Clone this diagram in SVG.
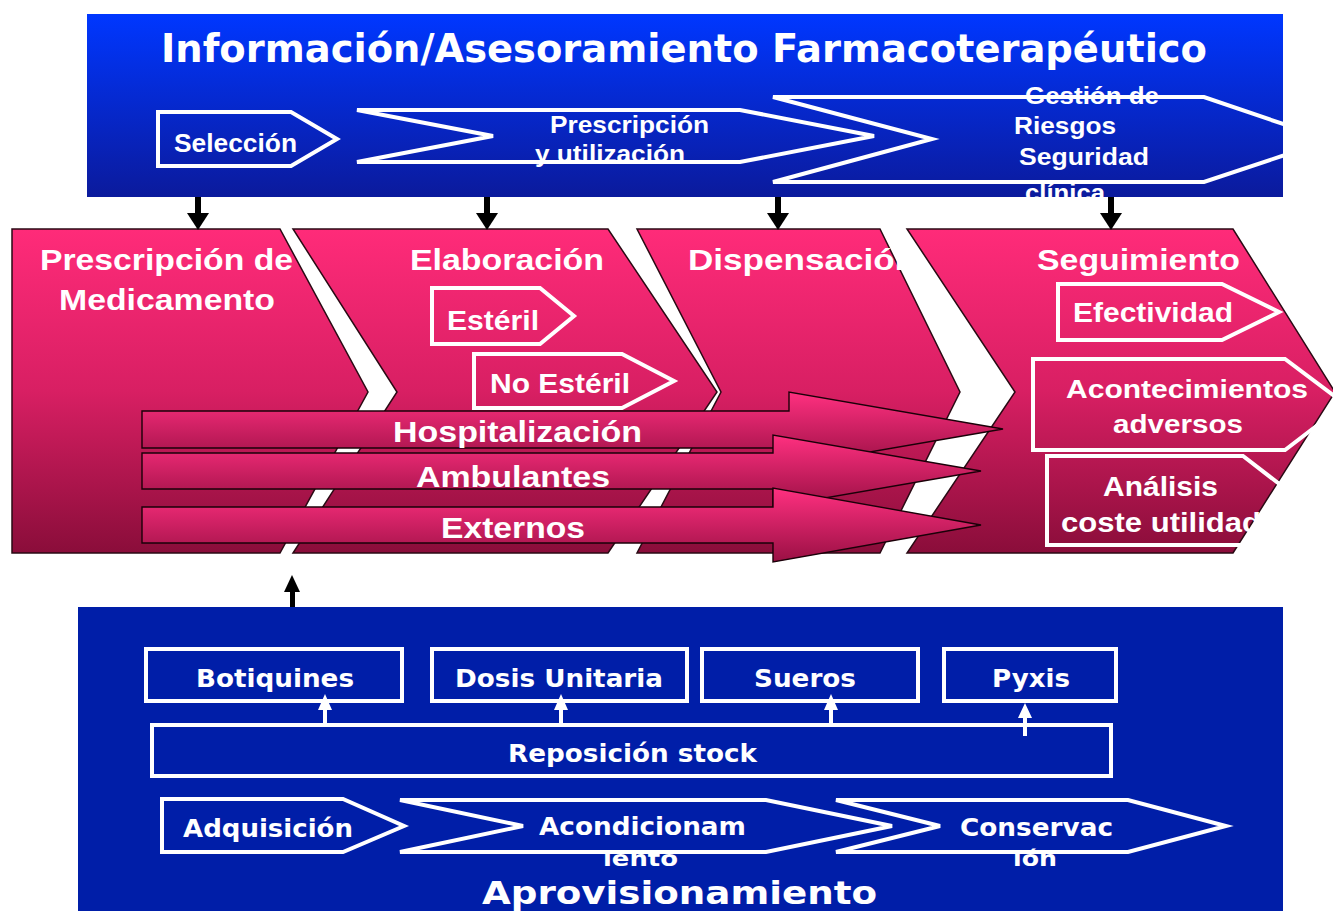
<svg xmlns="http://www.w3.org/2000/svg" width="1333" height="911" viewBox="0 0 1333 911">
<style>
.wt{fill:#fff;font-family:"Liberation Sans",Arial,sans-serif;font-weight:bold}
.dv{fill:#fff;font-family:"DejaVu Sans",Verdana,sans-serif;font-weight:bold}
.wo{fill:none;stroke:#fff;stroke-width:4;stroke-linejoin:miter}
.pk{fill:url(#pkg);stroke:#2a0a14;stroke-width:1.5}
.ba{fill:url(#bag);stroke:#1a0008;stroke-width:1.4;stroke-linejoin:miter}
</style>
<defs>
<linearGradient id="topg" x1="0" y1="0" x2="0" y2="1">
<stop offset="0" stop-color="#0037ff"/><stop offset="1" stop-color="#0b1a9c"/>
</linearGradient>
<linearGradient id="pkg" x1="0" y1="0" x2="0" y2="1">
<stop offset="0" stop-color="#ff2b79"/><stop offset="0.5" stop-color="#d81f63"/><stop offset="1" stop-color="#8a0d3a"/>
</linearGradient>
<linearGradient id="bag" x1="0" y1="0" x2="0" y2="1">
<stop offset="0" stop-color="#ff3080"/><stop offset="1" stop-color="#9a1044"/>
</linearGradient>
<clipPath id="topclip"><rect x="87" y="14" width="1196" height="183"/></clipPath>
</defs>

<g id="top-band">
<rect x="87" y="14" width="1196" height="183" fill="url(#topg)"/>
<text class="dv" x="161" y="62" font-size="39" textLength="1046" lengthAdjust="spacingAndGlyphs">Información/Asesoramiento Farmacoterapéutico</text>
<g clip-path="url(#topclip)">
<g id="seleccion">
<polygon class="wo" points="158,112 291,112 337,139 291,166 158,166"/>
<text class="wt" x="174" y="152" font-size="25" textLength="123" lengthAdjust="spacingAndGlyphs">Selección</text>
</g>
<g id="prescripcion-utilizacion">
<polygon class="wo" points="357,110 740,110 874,136 740,162 357,162 493,136"/>
<text class="wt" x="550" y="133" font-size="24" textLength="159" lengthAdjust="spacingAndGlyphs">Prescripción</text>
<text class="wt" x="535" y="162" font-size="24" textLength="150" lengthAdjust="spacingAndGlyphs">y utilización</text>
</g>
<g id="gestion-riesgos">
<polygon class="wo" points="773,97 1204,97 1330,140 1204,182 773,182 932,139"/>
<text class="wt" x="1025" y="104" font-size="24" textLength="134" lengthAdjust="spacingAndGlyphs">Gestión de</text>
<text class="wt" x="1014" y="134" font-size="24" textLength="102" lengthAdjust="spacingAndGlyphs">Riesgos</text>
<text class="wt" x="1019" y="165" font-size="24" textLength="130" lengthAdjust="spacingAndGlyphs">Seguridad</text>
<text class="wt" x="1025" y="201" font-size="24" textLength="80" lengthAdjust="spacingAndGlyphs">clínica</text>
</g>
</g>
</g>

<g id="prescripcion-medicamento">
<polygon class="pk" points="12,229 280,229 368,392 280,553 12,553"/>
<text class="wt" x="40" y="270" font-size="29" textLength="253" lengthAdjust="spacingAndGlyphs">Prescripción de</text>
<text class="wt" x="59" y="310" font-size="29" textLength="216" lengthAdjust="spacingAndGlyphs">Medicamento</text>
</g>
<g id="elaboracion">
<polygon class="pk" points="293,229 608,229 717,392 608,553 293,553 397,392"/>
<text class="wt" x="410" y="270" font-size="29" textLength="194" lengthAdjust="spacingAndGlyphs">Elaboración</text>
</g>
<g id="dispensacion">
<polygon class="pk" points="637,229 880,229 960,392 880,553 637,553 721,392"/>
<text class="wt" x="688" y="270" font-size="29" textLength="228" lengthAdjust="spacingAndGlyphs">Dispensación</text>
</g>
<g id="seguimiento">
<polygon class="pk" points="907,229 1233,229 1335,392 1233,553 907,553 1015,392"/>
<text class="wt" x="1037" y="270" font-size="29" textLength="203" lengthAdjust="spacingAndGlyphs">Seguimiento</text>
</g>

<g id="esteril">
<polygon class="wo" points="432,288 540,288 574,316 540,344 432,344"/>
<text class="wt" x="447" y="330" font-size="27" textLength="92" lengthAdjust="spacingAndGlyphs">Estéril</text>
</g>
<g id="no-esteril">
<polygon class="wo" points="474,354 622,354 674,381 622,408 474,408"/>
<text class="wt" x="490" y="393" font-size="27" textLength="140" lengthAdjust="spacingAndGlyphs">No Estéril</text>
</g>

<g id="efectividad">
<polygon class="wo" points="1058,284 1222,284 1279,312 1222,340 1058,340"/>
<text class="wt" x="1073" y="322" font-size="27" textLength="160" lengthAdjust="spacingAndGlyphs">Efectividad</text>
</g>
<g id="analisis">
<polygon class="wo" points="1047,456 1243,456 1300,500 1243,545 1047,545 1047,456"/>
<text class="wt" x="1103" y="496" font-size="27" textLength="115" lengthAdjust="spacingAndGlyphs">Análisis</text>
<text class="wt" x="1061" y="532" font-size="27" textLength="200" lengthAdjust="spacingAndGlyphs">coste utilidad</text>
</g>
<g id="acontecimientos">
<polygon class="wo" points="1033,359 1285,359 1345,404 1285,450 1033,450"/>
<text class="wt" x="1066" y="398" font-size="26" textLength="242" lengthAdjust="spacingAndGlyphs">Acontecimientos</text>
<text class="wt" x="1113" y="433" font-size="26" textLength="130" lengthAdjust="spacingAndGlyphs">adversos</text>
</g>

<g id="hospitalizacion">
<polygon class="ba" points="142,411 789,411 789,392 1003,429 789,466 789,448 142,448"/>
<text class="wt" x="393" y="442" font-size="30" textLength="249" lengthAdjust="spacingAndGlyphs">Hospitalización</text>
</g>
<g id="ambulantes">
<polygon class="ba" points="142,453 773,453 773,435 981,471 773,507 773,489 142,489"/>
<text class="wt" x="416" y="487" font-size="30" textLength="194" lengthAdjust="spacingAndGlyphs">Ambulantes</text>
</g>
<g id="externos">
<polygon class="ba" points="142,507 773,507 773,488 981,525 773,562 773,543 142,543"/>
<text class="wt" x="441" y="538" font-size="30" textLength="144" lengthAdjust="spacingAndGlyphs">Externos</text>
</g>

<g id="bottom-band">
<rect x="78" y="607" width="1205" height="304" fill="#001ea8"/>
<text class="dv" x="482" y="904" font-size="32" textLength="395" lengthAdjust="spacingAndGlyphs">Aprovisionamiento</text>
</g>
<g id="botiquines">
<rect class="wo" x="146" y="649" width="256" height="52"/>
<text class="dv" x="196" y="687" font-size="24" textLength="158" lengthAdjust="spacingAndGlyphs">Botiquines</text>
</g>
<g id="dosis-unitaria">
<rect class="wo" x="432" y="649" width="255" height="52"/>
<text class="dv" x="455" y="687" font-size="24" textLength="208" lengthAdjust="spacingAndGlyphs">Dosis Unitaria</text>
</g>
<g id="sueros">
<rect class="wo" x="702" y="649" width="216" height="52"/>
<text class="dv" x="754" y="687" font-size="24" textLength="102" lengthAdjust="spacingAndGlyphs">Sueros</text>
</g>
<g id="pyxis">
<rect class="wo" x="944" y="649" width="172" height="52"/>
<text class="dv" x="992" y="687" font-size="24" textLength="78" lengthAdjust="spacingAndGlyphs">Pyxis</text>
</g>
<g id="reposicion-stock">
<rect class="wo" x="152" y="725" width="959" height="51"/>
<text class="dv" x="508" y="762" font-size="24" textLength="249" lengthAdjust="spacingAndGlyphs">Reposición stock</text>
</g>
<g id="adquisicion">
<polygon class="wo" points="162,799 343,799 404,826 343,852 162,852"/>
<text class="dv" x="183" y="837" font-size="24" textLength="170" lengthAdjust="spacingAndGlyphs">Adquisición</text>
</g>
<g id="acondicionamiento">
<polygon class="wo" points="400,800 766,800 892,826 766,852 400,852 523,826"/>
<text class="dv" x="539" y="835" font-size="24" textLength="207" lengthAdjust="spacingAndGlyphs">Acondicionam</text>
<text class="dv" x="603" y="866" font-size="22" textLength="75" lengthAdjust="spacingAndGlyphs">iento</text>
</g>
<g id="conservacion">
<polygon class="wo" points="836,800 1128,800 1226,826 1128,852 836,852 940,826"/>
<text class="dv" x="960" y="836" font-size="24" textLength="153" lengthAdjust="spacingAndGlyphs">Conservac</text>
<text class="dv" x="1013" y="866" font-size="22" textLength="44" lengthAdjust="spacingAndGlyphs">ión</text>
</g>

<g id="connectors">
<g fill="#000">
<rect x="195" y="197" width="6" height="17"/><polygon points="187,213 209,213 198,230"/>
<rect x="484" y="197" width="6" height="17"/><polygon points="476,213 498,213 487,230"/>
<rect x="775" y="197" width="6" height="17"/><polygon points="767,213 789,213 778,230"/>
<rect x="1108" y="197" width="6" height="17"/><polygon points="1100,213 1122,213 1111,230"/>
<rect x="290" y="590" width="5" height="17"/><polygon points="284,592 300,592 292,575"/>
</g>
<g fill="#fff">
<rect x="323" y="707" width="4" height="17"/><polygon points="318,710 332,710 325,694"/>
<rect x="559" y="707" width="4" height="17"/><polygon points="554,710 568,710 561,694"/>
<rect x="829" y="707" width="4" height="17"/><polygon points="824,710 838,710 831,694"/>
<rect x="1023" y="715" width="4" height="21"/><polygon points="1018,718 1032,718 1025,703"/>
</g>
</g>
</svg>
